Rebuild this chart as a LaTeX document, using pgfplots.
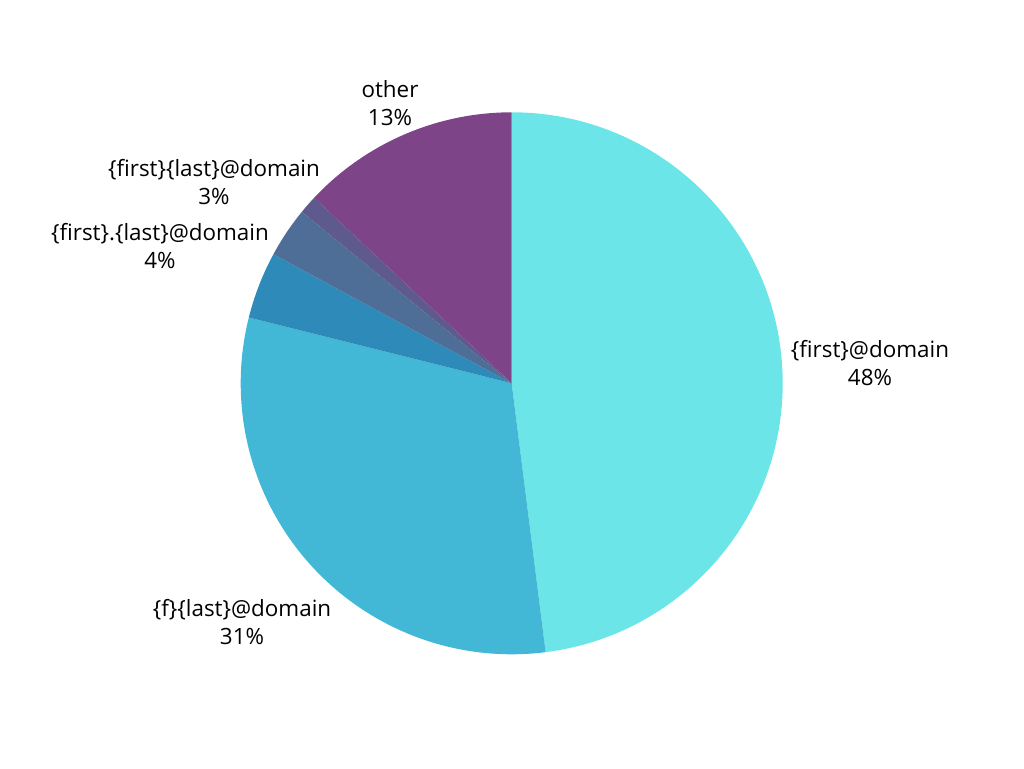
\documentclass[border=0pt]{standalone}
\usepackage{fontspec}
\setmainfont{Open Sans}
\usepackage{pgfplots}
\pgfplotsset{compat=1.18}
\definecolor{cCyan}{HTML}{6CE5E8}
\definecolor{cLight}{HTML}{42B7D6}
\definecolor{cBlue}{HTML}{2E8AB8}
\definecolor{cSlate}{HTML}{4E6E97}
\definecolor{cTiny}{HTML}{5E5A8E}
\definecolor{cOther}{HTML}{7D4587}
\begin{document}
\begin{tikzpicture}
\begin{axis}[
  scale only axis, width=512pt, height=384pt,
  xmin=0, xmax=1024, ymin=0, ymax=768,
  hide axis, clip=false,
]
\path (axis cs:0,0) rectangle (axis cs:1024,768);
% slice values in percent, clockwise from 12 o'clock (cumulative bounds)
\def\slice#1#2#3{%
  \fill[#3] (axis cs:511.7,384.7) -- ++({90-3.6*#1}:135.5pt) arc[start angle={90-3.6*#1}, end angle={90-3.6*#2}, radius=135.5pt] -- cycle;}
% values: 48.0, 30.9, 4.0, 3.0, 1.1, 13.0
\slice{0}{48.0}{cCyan}
\slice{48.0}{78.9}{cLight}
\slice{78.9}{82.9}{cBlue}
\slice{82.9}{85.9}{cSlate}
\slice{85.9}{87.0}{cTiny}
\slice{87.0}{100}{cOther}
\begin{scope}[every node/.style={align=center, font=\fontsize{11.2}{14}\selectfont, text=black}]
\node at (axis cs:390,665) {other\\13\%};
\node at (axis cs:214,586) {\{first\}\{last\}@domain\\3\%};
\node at (axis cs:160,522) {\{first\}.\{last\}@domain\\4\%};
\node at (axis cs:870,405) {\{first\}@domain\\48\%};
\node at (axis cs:242,146) {\{f\}\{last\}@domain\\31\%};
\end{scope}
\end{axis}
\end{tikzpicture}
\end{document}
